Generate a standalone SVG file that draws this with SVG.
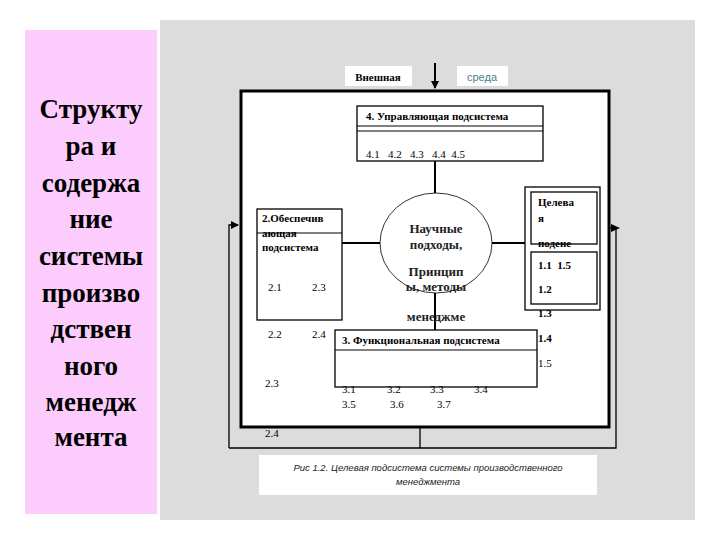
<svg xmlns="http://www.w3.org/2000/svg" width="720" height="540" viewBox="0 0 720 540">
<style>
.b{fill:#fff;stroke:#000;stroke-width:1.3}
.l{stroke:#000;stroke-width:2;fill:none}
.t{font-family:"Liberation Serif",serif;font-size:11px;fill:#000;white-space:pre}
.tb{font-family:"Liberation Serif",serif;font-size:11px;font-weight:bold;fill:#000;white-space:pre}
.big{font-family:"Liberation Serif",serif;font-size:27px;font-weight:bold;fill:#000;text-anchor:middle}
.e{font-family:"Liberation Serif",serif;font-size:13px;font-weight:bold;fill:#222;text-anchor:middle}
</style>
<defs><marker id="a" markerWidth="8" markerHeight="8" refX="7" refY="4" orient="auto" markerUnits="userSpaceOnUse"><path d="M0,0L8,4L0,8z" fill="#000"/></marker></defs>
<rect width="720" height="540" fill="#fff"/>
<rect x="25" y="30" width="132" height="484" fill="#fccdfc"/>
<rect x="160" y="20" width="535" height="500" fill="#dcdcdc"/>
<g id="title">
<text class="big" x="91" y="118">Структу</text><text class="big" x="91" y="155">ра и</text><text class="big" x="91" y="192">содержа</text><text class="big" x="91" y="228">ние</text><text class="big" x="91" y="265">системы</text><text class="big" x="91" y="302">произво</text><text class="big" x="91" y="338">дствен</text><text class="big" x="91" y="375">ного</text><text class="big" x="91" y="411">менедж</text><text class="big" x="91" y="446">мента</text>
</g>
<g id="connectors">
<polyline points="229,448 229,225 238,225" fill="none" stroke="#000" stroke-width="1.3" marker-end="url(#a)"/>
<polyline points="229,448 616,448 616,228 608,228" fill="none" stroke="#000" stroke-width="1.3"/>
<path d="M611,224L620,228L611,232z" fill="#000"/>
<line x1="420" y1="427" x2="420" y2="448" stroke="#000" stroke-width="1.3"/>
<line x1="435" y1="63" x2="435" y2="88" stroke="#000" stroke-width="2" marker-end="url(#a)"/>
</g>
<rect x="241" y="91" width="368" height="336" fill="#fff" stroke="#000" stroke-width="3"/>
<g id="lines">
<line class="l" x1="435" y1="161" x2="435" y2="195"/>
<line class="l" x1="435" y1="293" x2="435" y2="330"/>
<line class="l" x1="342" y1="243" x2="380" y2="243"/>
<line class="l" x1="492" y1="243" x2="525" y2="243"/>
</g>
<g id="env">
<rect x="345" y="66" width="67" height="20" fill="#fff"/><text class="tb" x="378" y="81" text-anchor="middle" font-size="10">Внешная</text>
<rect x="457" y="66" width="51" height="20" fill="#fff"/><text x="482" y="81" text-anchor="middle" font-family="Liberation Sans,sans-serif" font-size="11" fill="#4a7f96">среда</text>
</g>
<g id="n4"><rect class="b" x="357" y="106" width="186" height="55"/><line x1="357" y1="126" x2="543" y2="126" stroke="#000"/><line x1="357" y1="131" x2="543" y2="131" stroke="#000"/>
<text class="tb" x="366" y="120" font-size="10">4. Управляющая подсистема</text><text class="t" x="366" y="158">4.1   4.2   4.3   4.4  4.5</text></g>
<g id="center"><ellipse cx="436" cy="243" rx="56" ry="50" fill="#fff" stroke="#000" stroke-width="0.8"/>
<text class="e" x="436" y="233">Научные</text><text class="e" x="436" y="249">подходы,</text><text class="e" x="436" y="276">Принцип</text><text class="e" x="436" y="291">ы, методы</text><text class="e" x="436" y="321">менеджме</text></g>
<g id="n2"><rect class="b" x="257" y="209" width="85" height="111"/><line x1="257" y1="233" x2="342" y2="233" stroke="#000"/>
<text class="tb" x="262" y="222" font-size="10">2.Обеспечив</text><text class="tb" x="262" y="237" font-size="10">ающая</text><text class="tb" x="262" y="251" font-size="10">подсистема</text>
<text class="t" x="268" y="291">2.1</text><text class="t" x="312" y="291">2.3</text><text class="t" x="268" y="338">2.2</text><text class="t" x="312" y="338">2.4</text><text class="t" x="265" y="387">2.3</text><text class="t" x="265" y="437">2.4</text></g>
<g id="n1"><rect class="b" x="525" y="187" width="75" height="123"/><rect class="b" x="531" y="192" width="66" height="52"/><rect class="b" x="531" y="252" width="66" height="52"/>
<text class="tb" x="538" y="206">Целева</text><text class="tb" x="538" y="222">я</text><text class="tb" x="538" y="247" font-size="10">подене</text>
<text class="tb" x="538" y="269">1.1  1.5</text><text class="tb" x="538" y="293">1.2</text><text class="tb" x="538" y="317">1.3</text><text class="tb" x="538" y="342">1.4</text><text class="t" x="538" y="367">1.5</text></g>
<g id="n3"><rect class="b" x="335" y="330" width="202" height="57"/><line x1="335" y1="350" x2="537" y2="350" stroke="#000"/>
<text class="tb" x="342" y="344" font-size="10">3. Функциональная подсистема</text>
<text class="t" x="342" y="393">3.1</text><text class="t" x="387" y="393">3.2</text><text class="t" x="430" y="393">3.3</text><text class="t" x="474" y="393">3.4</text>
<text class="t" x="342" y="408">3.5</text><text class="t" x="390" y="408">3.6</text><text class="t" x="437" y="408">3.7</text></g>
<g id="caption"><rect x="259" y="455" width="338" height="40" fill="#fff"/>
<text x="428" y="471" text-anchor="middle" font-family="Liberation Sans,sans-serif" font-style="italic" font-size="9.5" fill="#222">Рис 1.2. Целевая подсистема системы производственного</text>
<text x="428" y="485" text-anchor="middle" font-family="Liberation Sans,sans-serif" font-style="italic" font-size="9.5" fill="#222">менеджмента</text></g>
</svg>
